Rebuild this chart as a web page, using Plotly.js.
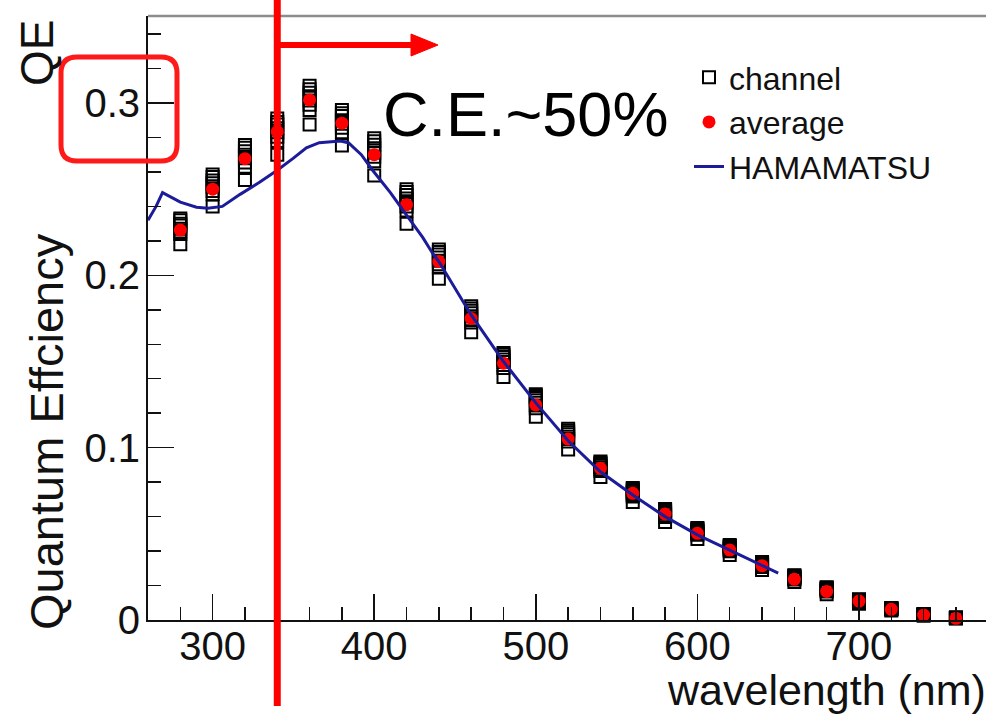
<!DOCTYPE html>
<html>
<head>
<meta charset="utf-8">
<script src="https://cdn.plot.ly/plotly-3.0.1.min.js"></script>
<style>html,body{margin:0;padding:0;background:#fff;}#chart{width:986px;height:715px;}</style>
</head>
<body>
<div id="chart"></div>
<script>
// wavelengths (nm)
var wavelength = [280,300,320,340,360,380,400,420,440,460,480,500,520,540,560,580,600,620,640,660,680,700,720,740,760];

// individual channel QE values (8 channels)
var ch1 = [0.233,0.2585,0.2756,0.291,0.310,0.296,0.2795,0.250,0.215,0.182,0.155,0.131,0.111,0.092,0.0766,0.0644,0.0534,0.0435,0.0337,0.026,0.019,0.012,0.007,0.0035,0.0015];
var ch2 = [0.232,0.257,0.274,0.289,0.308,0.294,0.2778,0.2484,0.2136,0.1808,0.1539,0.130,0.110,0.0913,0.076,0.0638,0.0529,0.043,0.0333,0.0257,0.0187,0.0118,0.0069,0.0034,0.0014];
var ch3 = [0.230,0.255,0.272,0.2875,0.306,0.2925,0.2758,0.2466,0.2121,0.1795,0.1526,0.1288,0.109,0.0905,0.0752,0.0631,0.0523,0.0425,0.0329,0.0253,0.0183,0.0116,0.0067,0.0033,0.0013];
var ch4 = [0.229,0.2535,0.270,0.2853,0.304,0.290,0.2737,0.2446,0.2104,0.178,0.1512,0.1275,0.1078,0.0896,0.0744,0.0624,0.0517,0.042,0.0324,0.025,0.018,0.0113,0.0066,0.0032,0.0012];
var ch5 = [0.227,0.2515,0.268,0.283,0.3015,0.288,0.2713,0.2424,0.2085,0.1763,0.1497,0.1261,0.1064,0.0886,0.0735,0.0616,0.051,0.0413,0.0319,0.0245,0.0175,0.011,0.0064,0.0031,0.0012];
var ch6 = [0.2255,0.249,0.2655,0.2805,0.299,0.2857,0.2688,0.240,0.2065,0.1745,0.148,0.1245,0.105,0.0875,0.0726,0.0607,0.0502,0.0406,0.0314,0.024,0.017,0.0108,0.0063,0.003,0.0011];
var ch7 = [0.224,0.247,0.263,0.278,0.296,0.283,0.2662,0.2376,0.2045,0.1727,0.1463,0.1229,0.1036,0.0864,0.0716,0.0597,0.0494,0.0399,0.0308,0.0235,0.0165,0.0105,0.0061,0.0029,0.001];
var ch8 = [0.218,0.240,0.2553,0.270,0.2876,0.2754,0.258,0.230,0.198,0.167,0.141,0.118,0.099,0.083,0.0685,0.0569,0.047,0.0377,0.029,0.022,0.015,0.0095,0.0055,0.0025,0.0008];

// average over channels
var average = [0.2263,0.250,0.2677,0.2834,0.3018,0.2883,0.270,0.241,0.208,0.175,0.149,0.1248,0.105,0.088,0.0735,0.0615,0.0503,0.0406,0.0315,0.0236,0.0166,0.011,0.0062,0.0029,0.001];

// HAMAMATSU catalogue curve
var hamaWl = [260,265,269,275,280,290,297,306,317,329,340,350,358,366,379,384,392,399,410,420,430,436,440,460,480,500,520,540,560,580,600,620,640,650];
var hamaQE = [0.232,0.240,0.248,0.245,0.2425,0.2395,0.239,0.240,0.247,0.254,0.261,0.268,0.274,0.277,0.278,0.277,0.270,0.261,0.248,0.235,0.222,0.213,0.208,0.177,0.150,0.126,0.104,0.086,0.0725,0.060,0.0494,0.0406,0.0316,0.0272];

var xTickVals = [300,400,500,600,700];
var yTickVals = [0,0.1,0.2,0.3];
var yTickText = ['0','0.1','0.2','0.3'];
var cutWavelength = 340;

// ---- layout geometry ----
var W = 986, H = 715;
var M = {l:148, r:0, t:16, b:95};
var xRange = [260, 778.6];
var yRange = [0, 0.3505];
var PW = W - M.l - M.r, PH = H - M.t - M.b;
function px(x){ return (x - M.l) / PW; }          // pixel -> paper x
function py(y){ return (H - M.b - y) / PH; }      // pixel -> paper y

var FONT = 'Liberation Sans, Arial, Helvetica, sans-serif';

var chX = [], chY = [];
[ch1,ch2,ch3,ch4,ch5,ch6,ch7,ch8].forEach(function(c){
  for (var i=0;i<wavelength.length;i++){ chX.push(wavelength[i]); chY.push(c[i]); }
});

var traces = [
  {x: chX, y: chY, type:'scatter', mode:'markers', name:'channel', cliponaxis:false,
   marker:{symbol:'square-open', size:12, color:'#000', line:{width:2, color:'#000'}}},
  {x: wavelength, y: average, type:'scatter', mode:'markers', name:'average', cliponaxis:false,
   marker:{symbol:'circle', size:13, color:'#ff0000'}},
  {x: hamaWl, y: hamaQE, type:'scatter', mode:'lines', name:'HAMAMATSU',
   line:{color:'#1c1c9a', width:3}}
];

var layout = {
  width: W, height: H,
  margin: M,
  paper_bgcolor:'#ffffff', plot_bgcolor:'#ffffff',
  font:{family:FONT, color:'#111', size:40},
  showlegend:true,
  legend:{x: px(689), y: py(50), xanchor:'left', yanchor:'top', bgcolor:'rgba(0,0,0,0)',
          font:{family:FONT, size:32, color:'#111'}, itemwidth:30, tracegroupgap:0},
  xaxis:{range:xRange, showgrid:false, zeroline:false, showline:true, linecolor:'#111', linewidth:2,
         ticks:'inside', ticklen:26, tickwidth:1.5, tickcolor:'#111', tickvals:xTickVals,
         minor:{dtick:20, tick0:0, ticks:'inside', ticklen:13, tickwidth:1.5, tickcolor:'#111'},
         tickfont:{family:FONT, size:40, color:'#111'}, ticklabelstandoff:-10, fixedrange:true},
  yaxis:{range:yRange, showgrid:false, zeroline:false, showline:true, linecolor:'#111', linewidth:2,
         ticks:'inside', ticklen:26, tickwidth:1.5, tickcolor:'#111', tickvals:yTickVals, ticktext:yTickText,
         minor:{dtick:0.02, tick0:0, ticks:'inside', ticklen:13, tickwidth:1.5, tickcolor:'#111'},
         tickfont:{family:FONT, size:40, color:'#111'}, ticklabelstandoff:-2, fixedrange:true},
  shapes:[
    // top frame line
    {type:'line', xref:'paper', yref:'paper', x0:0, x1:1, y0:1, y1:1, line:{color:'#8c8c8c', width:2.5}},
    // red cut line
    {type:'line', xref:'x', yref:'paper', x0:cutWavelength, x1:cutWavelength, y0:py(706), y1:py(0),
     line:{color:'#ff0000', width:7}},
    // arrow shaft
    {type:'line', xref:'x', yref:'paper', x0:cutWavelength, x1:423, y0:py(45), y1:py(45),
     line:{color:'#ff0000', width:6}},
    // arrow head
    {type:'path', xref:'paper', yref:'paper', fillcolor:'#ff0000', line:{color:'#ff0000', width:1},
     path:'M '+px(411)+' '+py(34)+' L '+px(438)+' '+py(45)+' L '+px(411)+' '+py(56)+' Z'},
    // rounded red box around 0.3
    (function(){
      var x0=px(61), x1=px(177), y0=py(161), y1=py(57), rx=16/PW, ry=16/PH;
      var p = 'M '+(x0+rx)+' '+y1+
              ' L '+(x1-rx)+' '+y1+' Q '+x1+' '+y1+' '+x1+' '+(y1-ry)+
              ' L '+x1+' '+(y0+ry)+' Q '+x1+' '+y0+' '+(x1-rx)+' '+y0+
              ' L '+(x0+rx)+' '+y0+' Q '+x0+' '+y0+' '+x0+' '+(y0+ry)+
              ' L '+x0+' '+(y1-ry)+' Q '+x0+' '+y1+' '+(x0+rx)+' '+y1+' Z';
      return {type:'path', xref:'paper', yref:'paper', path:p, line:{color:'#ff1a1a', width:5}};
    })()
  ],
  annotations:[
    {text:'C.E.~50%', xref:'paper', yref:'paper', x:px(381), y:py(114), xanchor:'left', yanchor:'middle',
     showarrow:false, font:{family:FONT, size:63, color:'#000'}},
    {text:'QE', xref:'paper', yref:'paper', x:px(37), y:py(18), xanchor:'center', yanchor:'top',
     textangle:-90, showarrow:false, font:{family:FONT, size:46, color:'#111'}},
    {text:'Quantum Effciency', xref:'paper', yref:'paper', x:px(46), y:py(432), xanchor:'center', yanchor:'middle',
     textangle:-90, showarrow:false, font:{family:FONT, size:47, color:'#111'}},
    {text:'wavelength (nm)', xref:'paper', yref:'paper', x:px(988), y:py(690), xanchor:'right', yanchor:'middle',
     showarrow:false, font:{family:FONT, size:43, color:'#111'}}
  ]
};

Plotly.newPlot('chart', traces, layout, {displayModeBar:false, staticPlot:true});
</script>
</body>
</html>
